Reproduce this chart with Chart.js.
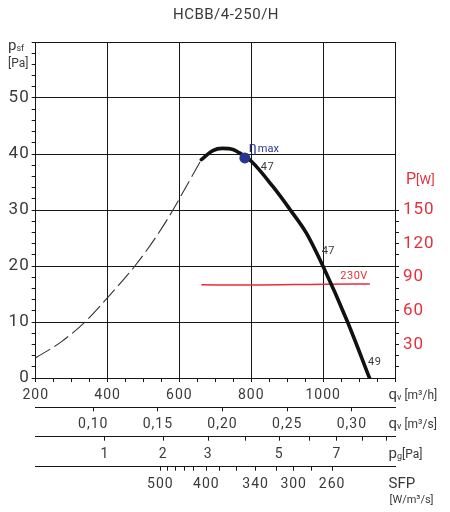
<!DOCTYPE html>
<html>
<head>
<meta charset="utf-8">
<title>HCBB/4-250/H</title>
<script src="https://cdn.jsdelivr.net/npm/chart.js@4/dist/chart.umd.min.js"></script>
<style>
    html, body { margin: 0; padding: 0; background: #fff; }
    #wrap { width: 450px; height: 512px; position: relative; }
</style>
</head>
<body>
<div id="wrap"><canvas id="fanChart"></canvas></div>
<script>
const chartTitle = 'HCBB/4-250/H';

// static pressure curve, unstable part (thin dashed) [m3/h] / [Pa]
const stallFlow = [200, 272, 337, 395, 476, 536, 582, 619, 661];
const stallPressure = [3.6, 6.5, 10.0, 14.0, 20.0, 25.3, 30.0, 34.2, 39.0];

// static pressure curve, working part (thick solid)
const workFlow = [661, 693, 719, 749, 767, 800, 860, 911, 953, 1000, 1068, 1129];
const workPressure = [39.0, 40.6, 41.0, 40.8, 40.2, 38.7, 34.2, 29.8, 25.9, 19.9, 10.0, 0];

// input power at 230V [W]
const powerFlow = [661, 800, 1000, 1130];
const powerWatts = [83.2, 83.0, 83.7, 83.9];

// best efficiency point
const etaFlow = 782;
const etaPressure = 39.3;

// efficiency labels on the curve
const effFlow = [782, 1000, 1129];
const effPressure = [39.3, 19.9, 0];
const effText = ['47', '47', '49'];

// axis ticks
const pressureLabels = [0, 10, 20, 30, 40, 50];
const powerLabels = [30, 60, 90, 120, 150];
const flowLabels = [200, 400, 600, 800, 1000];
const flowM3sTicks = [0.10, 0.15, 0.20, 0.25, 0.30];
const dynPressTicks = [1, 2, 3, 4, 5, 6, 7, 8, 9];
const dynPressLabels = [1, 2, 3, 5, 7];
const dynPressFlowAt1Pa = 392.5;
const sfpTicks = [500, 480, 460, 440, 420, 400, 380, 360, 340, 320, 300, 280, 260];
const sfpFlow = [547, 568, 590, 615, 640, 675, 712, 758, 812, 869, 918, 967, 1025];
const sfpLabels = [500, 400, 340, 300, 260];

const FONT = 'Roboto, "DejaVu Sans", sans-serif';
const GREY = '#3a3a3a';
const LINE = '#161616';
const RED = '#e3303b';
const BLUE = '#27358f';
const NONE = 'rgba(0,0,0,0)';

function range(a, b, step) {
    const out = [];
    for (let v = a; v <= b + 1e-9; v += step) out.push(Math.round(v * 100) / 100);
    return out;
}

function zip(xs, ys) {
    return xs.map((x, i) => ({ x: x, y: ys[i] }));
}

function drawRich(ctx, parts, x, y, color) {
    ctx.fillStyle = color;
    ctx.textAlign = 'left';
    ctx.textBaseline = 'alphabetic';
    let cx = x;
    parts.forEach(p => {
        ctx.font = p.size + 'px ' + FONT;
        ctx.fillText(p.text, cx, y + (p.dy || 0));
        cx += ctx.measureText(p.text).width + (p.gap || 0);
    });
}

// a bit of tracking on the tick numbers, the original uses a wide technical font
const spacingPlugin = {
    id: 'letterSpacing',
    beforeUpdate(chart) { chart.ctx.letterSpacing = '1px'; },
    beforeDraw(chart) { chart.ctx.letterSpacing = '1px'; }
};

const textPlugin = {
    id: 'chartTexts',
    afterDraw(chart) {
        const ctx = chart.ctx;
        const area = chart.chartArea;
        const sx = chart.scales.x, sy = chart.scales.y, sp = chart.scales.y1;
        ctx.save();

        // title
        ctx.letterSpacing = '0.5px';
        ctx.fillStyle = GREY;
        ctx.font = '15px ' + FONT;
        ctx.textAlign = 'center';
        ctx.textBaseline = 'middle';
        ctx.fillText(chartTitle, chart.width / 2 + 1, 15);

        ctx.letterSpacing = '0px';

        // left axis unit
        drawRich(ctx, [{ text: 'p', size: 15 }, { text: 'sf', size: 9, dy: 1 }], 8, 50, GREY);
        drawRich(ctx, [{ text: '[Pa]', size: 12 }], 8, 67, GREY);

        // right axis unit
        drawRich(ctx, [{ text: 'P', size: 16 }, { text: '[W]', size: 13 }], area.right + 11, 184, RED);

        // units of the lower axes
        const ux = area.right - 6.5;
        const rows = [
            [chart.scales.x, [{ text: 'q', size: 15 }, { text: 'v', size: 9, dy: 1, gap: 3 }, { text: '[m³/h]', size: 12 }]],
            [chart.scales.x2, [{ text: 'q', size: 15 }, { text: 'v', size: 9, dy: 1, gap: 3 }, { text: '[m³/s]', size: 12 }]],
            [chart.scales.x3, [{ text: 'p', size: 15 }, { text: 'g', size: 9, dy: 1 }, { text: '[Pa]', size: 12 }]],
            [chart.scales.x4, [{ text: 'SFP', size: 15, gap: 0 }]]
        ];
        rows.forEach(r => drawRich(ctx, r[1], ux, r[0].top + 21, GREY));
        drawRich(ctx, [{ text: '[W/m³/s]', size: 11 }], ux + 1, chart.scales.x4.top + 36.5, GREY);

        // eta max label
        const ex = sx.getPixelForValue(etaFlow), ey = sy.getPixelForValue(etaPressure);
        drawRich(ctx, [{ text: 'η', size: 14, gap: 1 }, { text: 'max', size: 11 }], ex + 4, ey - 6, BLUE);

        // efficiency labels
        ctx.letterSpacing = '0.5px';
        ctx.font = '11px ' + FONT;
        ctx.fillStyle = GREY;
        ctx.textAlign = 'left';
        ctx.textBaseline = 'middle';
        effFlow.forEach((f, i) => {
            const px = sx.getPixelForValue(f), py = sy.getPixelForValue(effPressure[i]);
            if (i === 0) ctx.fillText(effText[i], px + 16, py + 9);
            else ctx.fillText(effText[i], px - 1.5, py - 15.5);
        });

        // voltage label
        const lastP = powerFlow.length - 1;
        ctx.fillStyle = RED;
        ctx.textAlign = 'right';
        ctx.fillText('230V', sx.getPixelForValue(powerFlow[lastP]) - 2, sp.getPixelForValue(powerWatts[lastP]) - 7.5);

        ctx.restore();
    }
};

const tickFont = { size: 14, family: FONT };

new Chart(document.getElementById('fanChart'), {
    type: 'scatter',
    data: {
        datasets: [
            {
                label: 'eta max',
                data: [{ x: etaFlow, y: etaPressure }],
                pointRadius: 5.5,
                pointBackgroundColor: BLUE,
                pointBorderWidth: 0,
                showLine: false,
                order: 0
            },
            {
                label: 'psf',
                data: zip(workFlow, workPressure),
                showLine: true,
                borderColor: '#111',
                borderWidth: 3.6,
                borderCapStyle: 'round',
                pointRadius: 0,
                cubicInterpolationMode: 'monotone',
                order: 1
            },
            {
                label: 'psf unstable',
                data: zip(stallFlow, stallPressure),
                showLine: true,
                borderColor: '#333',
                borderWidth: 1.1,
                borderDash: [17, 5],
                pointRadius: 0,
                cubicInterpolationMode: 'monotone',
                order: 2
            },
            {
                label: 'P 230V',
                data: zip(powerFlow, powerWatts),
                yAxisID: 'y1',
                showLine: true,
                borderColor: RED,
                borderWidth: 1.5,
                pointRadius: 0,
                cubicInterpolationMode: 'monotone',
                order: 3
            }
        ]
    },
    options: {
        responsive: true,
        maintainAspectRatio: false,
        animation: false,
        layout: { padding: { top: 42, bottom: 15.3, left: 0, right: 0 } },
        plugins: {
            legend: { display: false },
            tooltip: { enabled: false },
            title: { display: false }
        },
        scales: {
            x: {
                type: 'linear', position: 'bottom', weight: 0,
                min: 200, max: 1200,
                afterBuildTicks: s => { s.ticks = range(200, 1200, 50).map(v => ({ value: v })); },
                afterFit: s => { s.height = 29.3; },
                grid: {
                    color: c => (c.tick && flowLabels.concat([1200]).includes(c.tick.value)) ? LINE : NONE,
                    tickColor: LINE, tickLength: 4, lineWidth: 1
                },
                border: { color: LINE, width: 1 },
                ticks: {
                    autoSkip: false, maxRotation: 0, padding: 5, color: GREY, font: tickFont,
                    callback: v => flowLabels.includes(v) ? String(v) : ''
                }
            },
            x2: {
                axis: 'x', type: 'linear', position: 'bottom', weight: 1,
                min: 200, max: 1200,
                afterBuildTicks: s => { s.ticks = flowM3sTicks.map(q => ({ value: q * 3600 })); },
                afterFit: s => { s.height = 29.4; },
                grid: { drawOnChartArea: false, tickColor: LINE, tickLength: 4 },
                border: { color: LINE, width: 1 },
                ticks: {
                    autoSkip: false, maxRotation: 0, padding: 5, color: GREY, font: tickFont,
                    callback: (v, i) => flowM3sTicks[i].toFixed(2).replace('.', ',')
                }
            },
            x3: {
                axis: 'x', type: 'linear', position: 'bottom', weight: 2,
                min: 200, max: 1200,
                afterBuildTicks: s => { s.ticks = dynPressTicks.map(p => ({ value: dynPressFlowAt1Pa * Math.sqrt(p) })); },
                afterFit: s => { s.height = 30; },
                grid: { drawOnChartArea: false, tickColor: LINE, tickLength: 4 },
                border: { color: LINE, width: 1 },
                ticks: {
                    autoSkip: false, maxRotation: 0, padding: 5, color: GREY, font: tickFont,
                    callback: (v, i) => dynPressLabels.includes(dynPressTicks[i]) ? String(dynPressTicks[i]) : ''
                }
            },
            x4: {
                axis: 'x', type: 'linear', position: 'bottom', weight: 3,
                min: 200, max: 1200,
                afterBuildTicks: s => { s.ticks = sfpFlow.map(f => ({ value: f })); },
                afterFit: s => { s.height = 30; },
                grid: { drawOnChartArea: false, tickColor: LINE, tickLength: 4 },
                border: { color: LINE, width: 1 },
                ticks: {
                    autoSkip: false, maxRotation: 0, padding: 5, color: GREY, font: tickFont,
                    callback: (v, i) => sfpLabels.includes(sfpTicks[i]) ? String(sfpTicks[i]) : ''
                }
            },
            y: {
                type: 'linear', position: 'left',
                min: 0, max: 60,
                afterBuildTicks: s => { s.ticks = range(0, 60, 2).map(v => ({ value: v })); },
                afterFit: s => { s.width = 35.7; },
                grid: {
                    color: c => (c.tick && c.tick.value % 10 === 0) ? LINE : NONE,
                    tickColor: LINE, tickLength: 4, lineWidth: 1
                },
                border: { color: LINE, width: 1 },
                ticks: {
                    autoSkip: false, padding: 2, color: GREY, font: { size: 17, family: FONT },
                    callback: v => pressureLabels.includes(v) ? String(v) : ''
                }
            },
            y1: {
                type: 'linear', position: 'right',
                min: 0, max: 300,
                afterBuildTicks: s => { s.ticks = range(10, 150, 10).map(v => ({ value: v })); },
                afterFit: s => { s.width = 55; },
                grid: { drawOnChartArea: false, tickColor: LINE, tickLength: 4 },
                border: { color: LINE, width: 1 },
                ticks: {
                    autoSkip: false, padding: 4, color: RED, font: { size: 17, family: FONT },
                    callback: v => powerLabels.includes(v) ? String(v) : ''
                }
            }
        }
    },
    plugins: [spacingPlugin, textPlugin]
});
</script>
</body>
</html>
